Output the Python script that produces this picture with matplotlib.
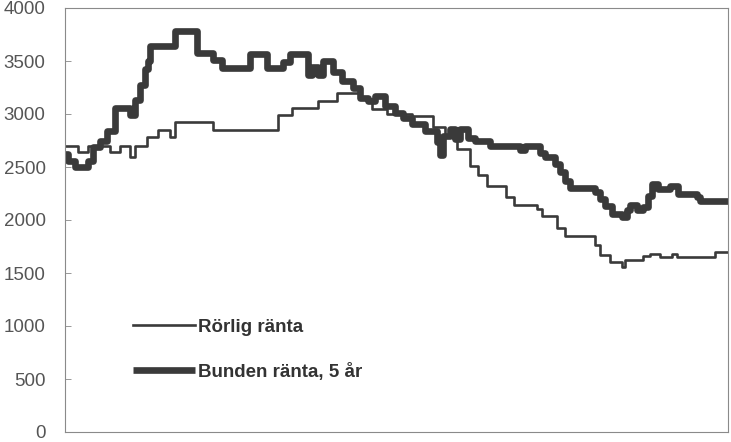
import numpy as np
import matplotlib
matplotlib.use("Agg")
import matplotlib.pyplot as plt

plt.rcParams['font.family'] = ['Liberation Sans', 'DejaVu Sans']

# period index (unitless) where each step starts, and the value from there on
t_rorlig = [0.0, 2.5, 4.5, 8.8, 10.8, 12.7, 13.7, 16.1, 18.2, 20.6, 21.6, 29.0,
            41.8, 44.5, 49.6, 53.3, 57.8, 60.2, 63.1, 68.0, 72.2, 74.5, 76.9,
            79.4, 81.0, 82.7, 86.5, 88.0, 92.5, 93.5, 96.5, 98.0, 103.9, 104.9,
            106.9, 109.2, 109.8, 113.3, 114.7, 116.7, 119.0, 120.0, 127.5]
v_rorlig = [2700, 2640, 2700, 2640, 2700, 2590, 2700, 2780, 2845, 2780, 2920, 2850,
            2990, 3060, 3120, 3195, 3140, 3050, 3000, 2985, 2880, 2790, 2670,
            2510, 2420, 2320, 2220, 2140, 2100, 2040, 1920, 1850, 1760, 1670,
            1600, 1555, 1620, 1665, 1680, 1653, 1680, 1653, 1697]

t_bunden = [0.0, 0.6, 2.0, 4.5, 5.5, 6.9, 8.2, 9.8, 12.7, 13.7, 14.7, 15.7, 16.3,
            16.7, 21.6, 25.9, 29.0, 30.8, 36.3, 39.6, 42.7, 44.1, 47.6, 48.4,
            49.6, 50.6, 52.5, 54.3, 56.5, 57.8, 59.4, 60.8, 62.7, 64.7, 66.3,
            68.0, 70.6, 72.9, 73.5, 74.1, 75.5, 76.5, 77.5, 79.0, 80.4, 83.3,
            89.2, 90.2, 93.1, 94.1, 96.1, 97.1, 98.0, 99.0, 103.9, 104.9, 105.9,
            107.3, 109.2, 110.2, 110.8, 112.2, 113.3, 114.3, 115.1, 116.3, 118.6,
            120.2, 123.9, 124.5]
v_bunden = [2620, 2560, 2500, 2560, 2690, 2750, 2840, 3060, 2990, 3130, 3270, 3420, 3500,
            3640, 3780, 3575, 3510, 3430, 3565, 3430, 3495, 3565, 3370, 3440,
            3370, 3500, 3400, 3310, 3245, 3150, 3120, 3170, 3075, 3010, 2965,
            2905, 2840, 2740, 2610, 2790, 2860, 2760, 2860, 2775, 2745, 2700,
            2665, 2700, 2635, 2590, 2525, 2450, 2370, 2305, 2260, 2200, 2135,
            2060, 2025, 2090, 2140, 2090, 2120, 2230, 2335, 2290, 2320,
            2250, 2220, 2180]

t_end = 130.0
yticks = [0, 500, 1000, 1500, 2000, 2500, 3000, 3500, 4000]
labels = ['Rörlig ränta', 'Bunden ränta, 5 år']

fig = plt.figure(figsize=(7.31, 4.42), dpi=100)
ax = fig.add_axes([65/731, 1-432/442, 663/731, 424/442])

line_col = '#3a3a3a'
ax.step(t_rorlig + [t_end], v_rorlig + [v_rorlig[-1]], where='post',
        color=line_col, lw=1.9, label=labels[0])
ax.step(t_bunden + [t_end], v_bunden + [v_bunden[-1]], where='post',
        color=line_col, lw=4.8, solid_joinstyle='round', solid_capstyle='butt',
        label=labels[1])

ax.set_xlim(0, t_end)
ax.set_ylim(0, 4000)
ax.set_yticks(yticks)
ax.set_xticks([])
ax.tick_params(axis='y', direction='in', length=4.5, width=0.6, color='#888888',
               labelsize=13.5, labelcolor='#555555', pad=14)
for s in ax.spines.values():
    s.set_color('#8a8a8a')
    s.set_linewidth(0.8)

leg = ax.legend(loc='center left', bbox_to_anchor=(0.1026, 0.194), frameon=False,
                borderpad=0, borderaxespad=0, handlelength=3.3, handletextpad=0.15,
                labelspacing=1.45, prop={'weight': 'bold', 'size': 13.5})
for txt in leg.get_texts():
    txt.set_color('#333333')

fig.savefig('out.png', dpi=100)
